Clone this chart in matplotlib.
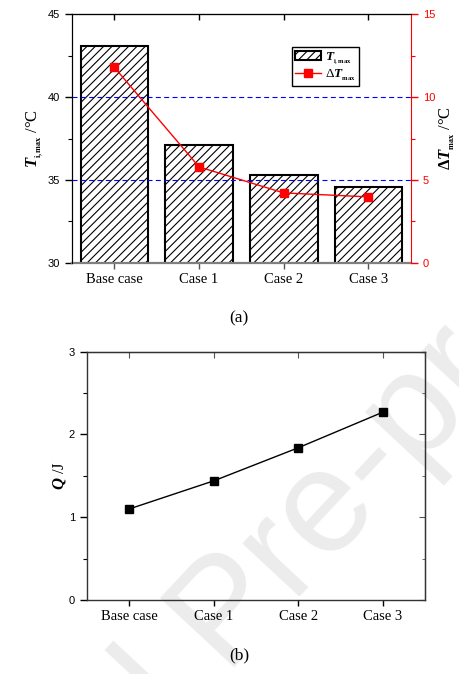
import numpy as np
import matplotlib.pyplot as plt
from matplotlib.ticker import MultipleLocator

# data
cases = ['Base case', 'Case 1', 'Case 2', 'Case 3']
t_imax = [43.1, 37.1, 35.3, 34.55]      # T_i,max /degC (bars, left axis)
dt_max = [11.8, 5.78, 4.21, 3.97]       # Delta T_max /degC (red line, right axis)
q_heat = [1.10, 1.44, 1.84, 2.27]       # Q /J (panel b)

plt.rcParams['mathtext.fontset'] = 'custom'
plt.rcParams['mathtext.rm'] = 'Liberation Serif'
plt.rcParams['mathtext.it'] = 'Liberation Serif:italic:bold'
plt.rcParams['mathtext.bf'] = 'Liberation Serif:bold'
plt.rcParams['hatch.linewidth'] = 0.8

serif = 'Liberation Serif'
sans = 'Liberation Sans'

fig = plt.figure(figsize=(4.59, 6.74), dpi=100)
x = np.arange(len(cases))

# watermark of the journal page
fig.text(0.50, 0.085, 'Journal Pre-proof', fontsize=106, color='#ececec',
         rotation=47, ha='center', va='center', family=sans, zorder=-1)

###### (a) bars + delta T ######
ax1 = fig.add_axes([0.157, 0.6105, 0.738, 0.368])
ax1.bar(x, t_imax, width=0.8, color='white', edgecolor='black', linewidth=1.5,
        hatch='////', label=r'$T_{_{\mathbf{i,max}}}$', zorder=2)
for yy in [35, 40]:
    ax1.axhline(yy, color='blue', lw=0.8, ls=(0, (4.5, 3)), zorder=3)
ax1.set_xlim(-0.5, 3.5)
ax1.set_ylim(30, 45)
ax1.yaxis.set_major_locator(MultipleLocator(5))
ax1.yaxis.set_minor_locator(MultipleLocator(2.5))
ax1.set_xticks(x)
ax1.set_xticklabels(cases, family=serif, fontsize=10.5)
for lab in ax1.get_yticklabels():
    lab.set_fontname(sans)
    lab.set_fontsize(8)
ax1.tick_params(axis='y', which='major', direction='out', length=5, width=1)
ax1.tick_params(axis='y', which='minor', direction='out', length=3, width=0.8)
ax1.tick_params(axis='x', direction='out', length=4, width=1, colors='#555555',
                labelcolor='black')
ax1.set_ylabel(r'$T_{_{\mathbf{i,max}}}$ /°C', family=serif, fontsize=12, labelpad=2)
ax1.spines['bottom'].set_color('#7f7f7f')
ax1.spines['bottom'].set_linewidth(1.6)
ax1.spines['right'].set_visible(False)
sec1 = ax1.secondary_xaxis('top')
sec1.set_xticks(x)
sec1.tick_params(direction='in', length=4, width=1, labeltop=False)

ax2 = ax1.twinx()
ax2.plot(x, dt_max, color='red', lw=1, marker='s', ms=6,
         label=r'$\Delta T_{_{\mathbf{max}}}$', zorder=4)
ax2.set_ylim(0, 15)
ax2.yaxis.set_major_locator(MultipleLocator(5))
ax2.yaxis.set_minor_locator(MultipleLocator(2.5))
ax2.tick_params(axis='y', which='major', direction='out', length=5, width=1,
                colors='red')
ax2.tick_params(axis='y', which='minor', direction='out', length=3, width=0.8,
                colors='red')
for lab in ax2.get_yticklabels():
    lab.set_fontname(sans)
    lab.set_fontsize(8)
ax2.spines['right'].set_color('red')
ax2.spines['bottom'].set_visible(False)
ax2.set_ylabel(r'$\mathbf{\Delta}T_{_{\mathbf{max}}}$ /°C', family=serif,
               fontsize=12, labelpad=2)

h1, l1 = ax1.get_legend_handles_labels()
h2, l2 = ax2.get_legend_handles_labels()
leg = ax2.legend(h1 + h2, l1 + l2, loc='upper left', bbox_to_anchor=(0.648, 0.868),
                 fancybox=False, edgecolor='black', framealpha=1,
                 prop={'family': serif, 'size': 9.5}, handlelength=2.0,
                 handletextpad=0.3, borderpad=0.25, labelspacing=0.1,
                 borderaxespad=0)
leg.get_frame().set_linewidth(1)

fig.text(0.521, 0.527, '(a)', family=serif, fontsize=12.5, ha='center', va='center')

###### (b) heat Q ######
ax3 = fig.add_axes([0.1895, 0.1098, 0.737, 0.3684])
ax3.set_facecolor('none')
ax3.plot(x, q_heat, color='black', lw=1, marker='s', ms=6)
ax3.set_xlim(-0.5, 3.5)
ax3.set_ylim(0, 3)
ax3.yaxis.set_major_locator(MultipleLocator(1))
ax3.yaxis.set_minor_locator(MultipleLocator(0.5))
ax3.set_xticks(x)
ax3.set_xticklabels(cases, family=serif, fontsize=10.5)
for lab in ax3.get_yticklabels():
    lab.set_fontname(sans)
    lab.set_fontsize(8)
ax3.tick_params(axis='y', which='major', direction='out', length=5, width=1)
ax3.tick_params(axis='y', which='minor', direction='out', length=3, width=0.8)
ax3.tick_params(axis='x', direction='out', length=4, width=1)
for sp in ax3.spines.values():
    sp.set_color('#333333')
    sp.set_linewidth(1)
ax3.set_ylabel(r'$Q$ /J', family=serif, fontsize=12, labelpad=1)
sec3x = ax3.secondary_xaxis('top')
sec3x.set_xticks(x)
sec3x.tick_params(direction='in', length=4, width=0.8, labeltop=False, colors='#555555')
sec3y = ax3.secondary_yaxis('right')
sec3y.yaxis.set_major_locator(MultipleLocator(1))
sec3y.yaxis.set_minor_locator(MultipleLocator(0.5))
sec3y.tick_params(which='major', direction='in', length=4, width=0.8,
                  labelright=False, colors='#555555')
sec3y.tick_params(which='minor', direction='in', length=2.5, width=0.6,
                  colors='#555555')

fig.text(0.521, 0.028, '(b)', family=serif, fontsize=12.5, ha='center', va='center')

plt.savefig('out.png', dpi=100)
